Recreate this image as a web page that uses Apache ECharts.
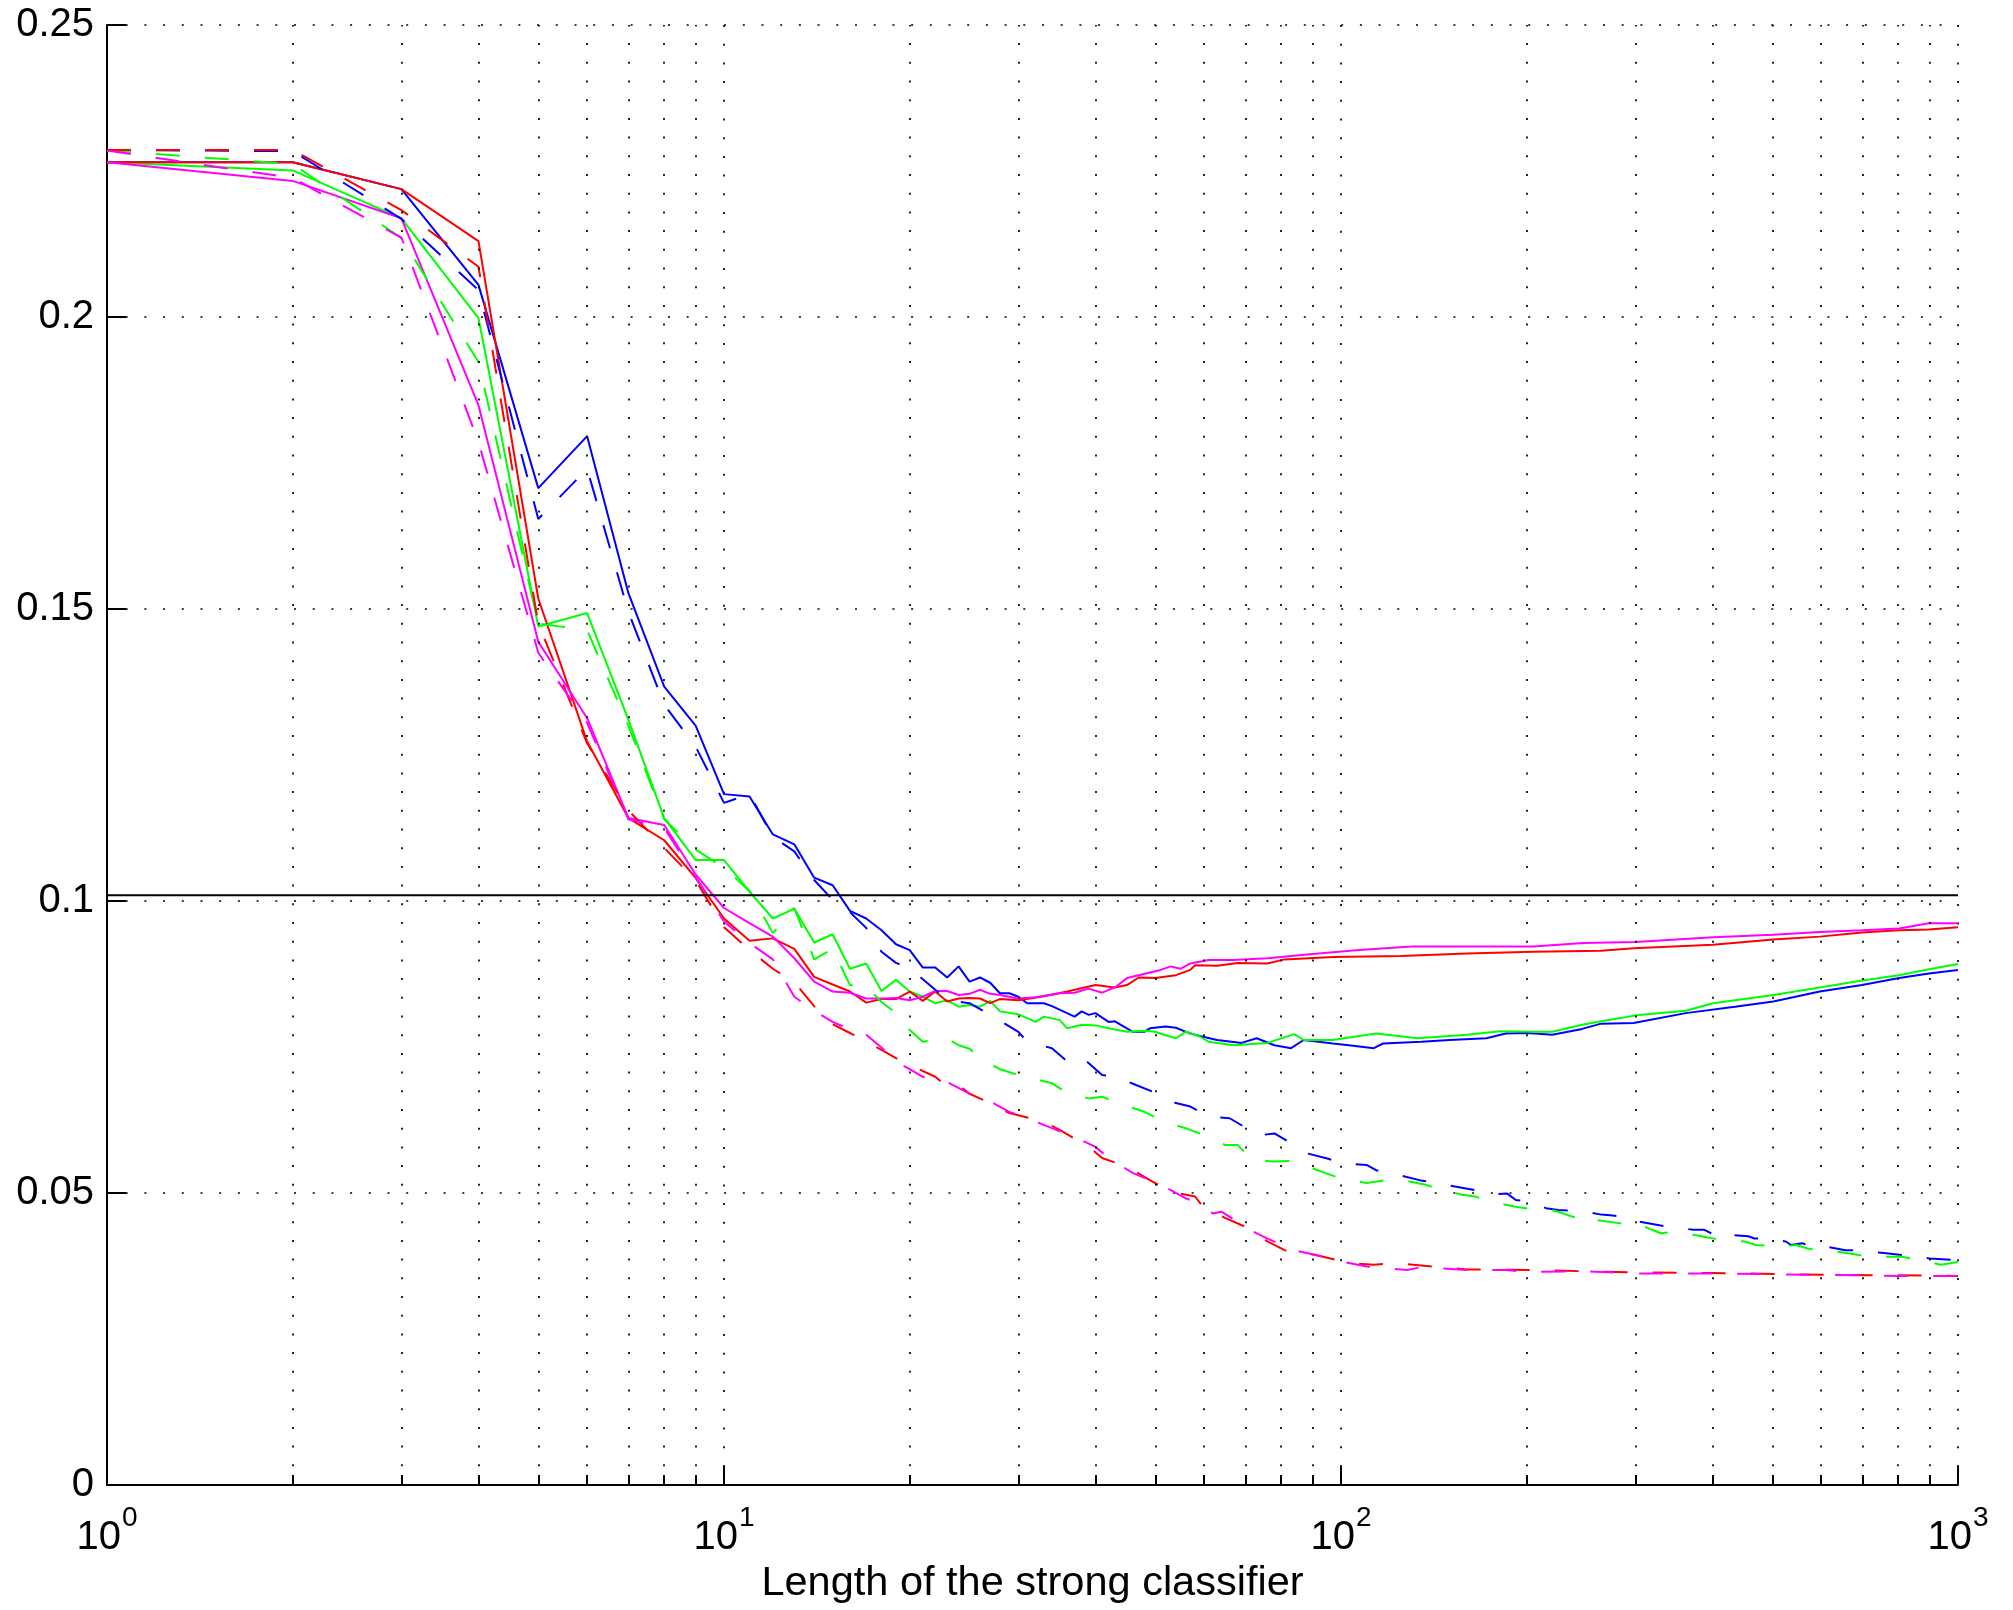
<!DOCTYPE html>
<html><head><meta charset="utf-8">
<script src="https://cdn.jsdelivr.net/npm/echarts@6/dist/echarts.min.js"></script>
<style>html,body{margin:0;padding:0;background:#fff}#c{width:2013px;height:1610px}</style>
</head><body><div id="c"></div>
<script>
// ---------- data (x = length of strong classifier, y = error) ----------
const blueSolid = [[1,.2265],[2,.2265],[3,.2219],[4,.2055],[5,.1707],[6,.1796],[7,.1527],[8,.1367],[9,.1300],[10,.1183],[11,.1179],[12,.1114],[13,.1097],[14,.1040],[15,.1027],[16,.0983],[17,.0970],[18,.0950],[19,.0926],[20,.0916],[21,.0886],[22,.0886],[23,.0869],[24,.0888],[25,.0862],[26,.0869],[27,.0860],[28,.0842],[29,.0842],[30,.0836],[31,.0825],[33,.0825],[34,.0820],[37,.0802],[38,.0811],[39,.0805],[40,.0808],[42,.0793],[43,.0794],[46,.0776],[48,.0776],[49,.0782],[52,.0785],[54,.0783],[57,.0773],[59,.0769],[63,.0762],[69,.0757],[73,.0765],[78,.0753],[83,.0748],[87,.0762],[97,.0756],[103,.0753],[113,.0748],[117,.0756],[135,.0759],[150,.0762],[172,.0765],[185,.0773],[200,.0774],[220,.0771],[246,.0781],[264,.0790],[298,.0791],[362,.0808],[435,.0819],[502,.0828],[597,.0845],[699,.0856],[803,.0868],[897,.0876],[1000,.0882]];
const greenSolid = [[1,.2265],[2,.2251],[3,.2169],[4,.1998],[5,.1470],[6,.1493],[7,.1310],[8,.1142],[9,.1070],[10,.1070],[11,.1016],[12,.0970],[13,.0987],[14,.0929],[15,.0943],[16,.0884],[17,.0893],[18,.0846],[19,.0865],[20,.0845],[21,.0836],[22,.0825],[23,.0830],[24,.0819],[25,.0822],[26,.0819],[27,.0829],[28,.0811],[30,.0806],[32,.0793],[33,.0802],[35,.0796],[36,.0782],[38,.0788],[40,.0787],[42,.0782],[45,.0776],[48,.0778],[50,.0776],[52,.0770],[54,.0765],[56,.0776],[59,.0768],[61,.0759],[67,.0753],[76,.0757],[84,.0772],[87,.0762],[97,.0762],[107,.0769],[114,.0773],[133,.0765],[160,.0771],[181,.0777],[205,.0776],[220,.0776],[246,.0788],[264,.0794],[304,.0805],[362,.0812],[401,.0825],[502,.0839],[597,.0852],[699,.0864],[803,.0873],[897,.0883],[1000,.0892]];
const redSolid = [[1,.2265],[2,.2265],[3,.2219],[4,.2130],[5,.1518],[6,.1273],[7,.1142],[8,.1104],[9,.1039],[10,.0970],[11,.0932],[12,.0936],[13,.0918],[14,.0870],[15,.0857],[16,.0845],[17,.0826],[18,.0832],[19,.0832],[20,.0845],[21,.0829],[22,.0845],[23,.0828],[24,.0833],[25,.0834],[26,.0833],[27,.0825],[28,.0832],[30,.0830],[33,.0837],[36,.0845],[40,.0856],[43,.0852],[45,.0856],[47,.0869],[50,.0868],[54,.0873],[57,.0882],[58,.0890],[63,.0889],[68,.0894],[76,.0893],[81,.0900],[97,.0904],[125,.0906],[160,.0910],[205,.0913],[264,.0915],[298,.0919],[401,.0925],[502,.0934],[597,.0939],[699,.0946],[803,.0950],[897,.0951],[1000,.0955]];
const magentaSolid = [[1,.2265],[2,.2233],[3,.2169],[4,.1849],[5,.1444],[6,.1313],[7,.1142],[8,.1130],[9,.1045],[10,.0988],[11,.0962],[12,.0939],[13,.0902],[14,.0862],[15,.0845],[16,.0843],[17,.0833],[18,.0833],[19,.0834],[20,.0830],[21,.0836],[22,.0846],[23,.0846],[24,.0839],[25,.0841],[26,.0848],[27,.0841],[28,.0839],[30,.0833],[32,.0835],[35,.0842],[37,.0843],[39,.0850],[41,.0843],[43,.0852],[45,.0868],[51,.0882],[53,.0888],[55,.0884],[57,.0893],[61,.0899],[67,.0899],[76,.0902],[89,.0909],[107,.0916],[130,.0922],[160,.0922],[205,.0922],[247,.0928],[300,.0930],[401,.0938],[502,.0942],[597,.0947],[699,.0950],[803,.0953],[897,.0962],[1000,.0962]];
const blueDashed = [[1,.2286],[2,.2284],[3,.2168],[4,.2046],[5,.1654],[6,.1740],[7,.1495],[8,.1336],[9,.1264],[10,.1168],[11,.1183],[12,.1110],[13,.1085],[14,.1036],[15,.1002],[16,.0981],[17,.0954],[18,.0913],[19,.0894],[20,.0885],[21,.0866],[22,.0848],[23,.0830],[25,.0825],[27,.0805],[30,.0776],[31,.0759],[34,.0748],[36,.0725],[38,.0733],[41,.0702],[43,.0700],[46,.0687],[51,.0668],[54,.0654],[57,.0648],[61,.0631],[66,.0628],[69,.0616],[74,.0599],[78,.0602],[84,.0582],[88,.0568],[95,.0559],[101,.0551],[110,.0548],[114,.0539],[124,.0531],[134,.0522],[144,.0517],[153,.0511],[165,.0505],[173,.0497],[186,.0499],[192,.0488],[203,.0485],[215,.0474],[225,.0471],[250,.0468],[264,.0463],[273,.0462],[300,.0457],[304,.0451],[335,.0443],[355,.0440],[372,.0437],[388,.0437],[403,.0428],[418,.0434],[430,.0428],[457,.0426],[468,.0422],[486,.0422],[508,.0419],[526,.0417],[536,.0411],[560,.0414],[575,.0408],[590,.0411],[635,.0405],[657,.0402],[680,.0402],[720,.0399],[765,.0397],[810,.0394],[850,.0391],[900,.0388],[1000,.0385]];
const greenDashed = [[1,.2285],[2,.2262],[3,.2135],[4,.1923],[5,.1475],[6,.1464],[7,.1300],[8,.1140],[9,.1088],[10,.1057],[11,.1017],[12,.0945],[13,.0988],[14,.0900],[15,.0918],[16,.0856],[17,.0854],[18,.0827],[19,.0808],[20,.0779],[21,.0759],[22,.0762],[23,.0765],[24,.0753],[25,.0747],[26,.0731],[28,.0712],[30,.0702],[34,.0688],[36,.0671],[39,.0662],[41,.0665],[44,.0652],[48,.0639],[52,.0621],[56,.0611],[61,.0596],[65,.0582],[68,.0582],[72,.0556],[78,.0554],[84,.0555],[90,.0542],[98,.0528],[101,.0525],[110,.0517],[118,.0522],[126,.0522],[137,.0514],[147,.0505],[157,.0497],[165,.0494],[175,.0485],[191,.0477],[199,.0474],[212,.0474],[225,.0468],[238,.0459],[254,.0462],[258,.0454],[284,.0448],[298,.0451],[319,.0437],[330,.0431],[350,.0434],[374,.0428],[401,.0422],[451,.0417],[470,.0411],[520,.0408],[547,.0411],[570,.0405],[615,.0400],[644,.0399],[690,.0394],[735,.0391],[776,.0391],[811,.0391],[870,.0385],[897,.0382],[937,.0377],[1000,.0382]];
const redDashed = [[1,.2286],[2,.2286],[3,.2183],[4,.2086],[5,.1475],[6,.1270],[7,.1155],[8,.1091],[9,.1035],[10,.0955],[11,.0916],[12,.0884],[13,.0861],[14,.0820],[15,.0789],[16,.0774],[17,.0759],[18,.0745],[19,.0731],[20,.0719],[22,.0699],[23,.0682],[24,.0685],[25,.0670],[27,.0654],[29,.0637],[33,.0622],[35,.0608],[39,.0579],[41,.0560],[45,.0545],[49,.0522],[53,.0502],[58,.0494],[60,.0474],[65,.0457],[70,.0442],[76,.0417],[81,.0402],[91,.0394],[103,.0380],[113,.0377],[122,.0380],[131,.0377],[160,.0369],[205,.0368],[300,.0364],[400,.0363],[600,.0360],[800,.0359],[1000,.0358]];
const magentaDashed = [[1,.2285],[2,.2238],[3,.2136],[4,.1786],[5,.1425],[6,.1305],[7,.1140],[8,.1125],[9,.1040],[10,.0965],[11,.0928],[12,.0900],[13,.0836],[14,.0812],[15,.0793],[16,.0780],[17,.0771],[18,.0749],[19,.0725],[20,.0712],[21,.0699],[22,.0697],[23,.0690],[25,.0670],[27,.0657],[29,.0639],[31,.0628],[34,.0611],[37,.0596],[40,.0579],[42,.0560],[46,.0534],[49,.0522],[53,.0505],[56,.0491],[59,.0482],[62,.0465],[64,.0468],[72,.0434],[76,.0422],[84,.0402],[91,.0394],[96,.0388],[101,.0382],[110,.0374],[128,.0368],[136,.0374],[144,.0371],[160,.0368],[185,.0368],[200,.0365],[250,.0366],[300,.0362],[400,.0362],[600,.0360],[800,.0358],[1000,.0358]];
const referenceLevel = 0.101;
const xMinorGrid = [2,3,4,5,6,7,8,9,20,30,40,50,60,70,80,90,200,300,400,500,600,700,800,900];
const xAxisTitle = 'Length of the strong classifier';

// ---------- chart ----------
const FONT = "'Liberation Sans', Arial, Helvetica, sans-serif";
const DASH = [24, 25];
const DOT = [2, 16.7];
const MINOR_TICK = 0.00171;

function lineSeries(data, color, dashed, z) {
  return {
    type: 'line', data: data, showSymbol: false, symbol: 'none', z: z,
    silent: true, animation: false,
    lineStyle: { color: color, width: 2, type: dashed ? DASH : 'solid' },
    emphasis: { disabled: true }
  };
}

const chart = echarts.init(document.getElementById('c'), null, { renderer: 'canvas' });
chart.setOption({
  animation: false,
  backgroundColor: '#ffffff',
  grid: { left: 107, right: 55, top: 25, bottom: 125, containLabel: false },
  xAxis: {
    type: 'log', logBase: 10, min: 1, max: 1000,
    name: xAxisTitle, nameLocation: 'middle', nameGap: 78,
    nameTextStyle: { fontSize: 41.5, color: '#000', fontFamily: FONT },
    axisLine: { show: true, lineStyle: { color: '#000', width: 2 } },
    axisTick: { show: true, inside: true, length: 19, lineStyle: { color: '#000', width: 2 } },
    axisLabel: {
      margin: 33, showMinLabel: true, showMaxLabel: true,
      formatter: function (v) { return '{b|10}{s|' + Math.round(Math.log10(v)) + '}'; },
      rich: {
        b: { fontSize: 40, lineHeight: 40, fontFamily: FONT, color: '#000', verticalAlign: 'bottom' },
        s: { fontSize: 28, lineHeight: 28, padding: [0, 0, 26, 1], fontFamily: FONT, color: '#000', verticalAlign: 'bottom' }
      }
    },
    splitLine: { show: true, lineStyle: { color: '#000', width: 1.7, type: DOT } }
  },
  yAxis: {
    type: 'value', min: 0, max: 0.25, interval: 0.05,
    axisLine: { show: true, lineStyle: { color: '#000', width: 2 } },
    axisTick: { show: true, inside: true, length: 19, lineStyle: { color: '#000', width: 2 } },
    axisLabel: { margin: 13, fontSize: 40, color: '#000', fontFamily: FONT },
    splitLine: { show: true, lineStyle: { color: '#000', width: 1.7, type: DOT } }
  },
  series: [
    { type: 'line', data: [], z: 1, silent: true,
      markLine: { silent: true, animation: false, symbol: ['none', 'none'], label: { show: false },
        lineStyle: { color: '#000', width: 1.7, type: DOT },
        emphasis: { disabled: true },
        data: xMinorGrid.map(function (v) { return { xAxis: v }; }) } },
    { type: 'line', data: [], z: 1, silent: true,
      markLine: { silent: true, animation: false, symbol: ['none', 'none'], label: { show: false },
        lineStyle: { color: '#000', width: 2, type: 'solid' },
        emphasis: { disabled: true },
        data: xMinorGrid.map(function (v) { return [{ coord: [v, 0] }, { coord: [v, MINOR_TICK] }]; }) } },
    lineSeries(blueSolid, '#0000ff', false, 3),
    lineSeries(greenSolid, '#00ff00', false, 3),
    lineSeries(redSolid, '#ff0000', false, 3),
    lineSeries(magentaSolid, '#ff00ff', false, 3),
    lineSeries(blueDashed, '#0000ff', true, 3),
    lineSeries(greenDashed, '#00ff00', true, 3),
    lineSeries(redDashed, '#ff0000', true, 3),
    lineSeries(magentaDashed, '#ff00ff', true, 3),
    lineSeries([[1, referenceLevel], [1000, referenceLevel]], '#000000', false, 4)
  ]
});
</script>
</body></html>
